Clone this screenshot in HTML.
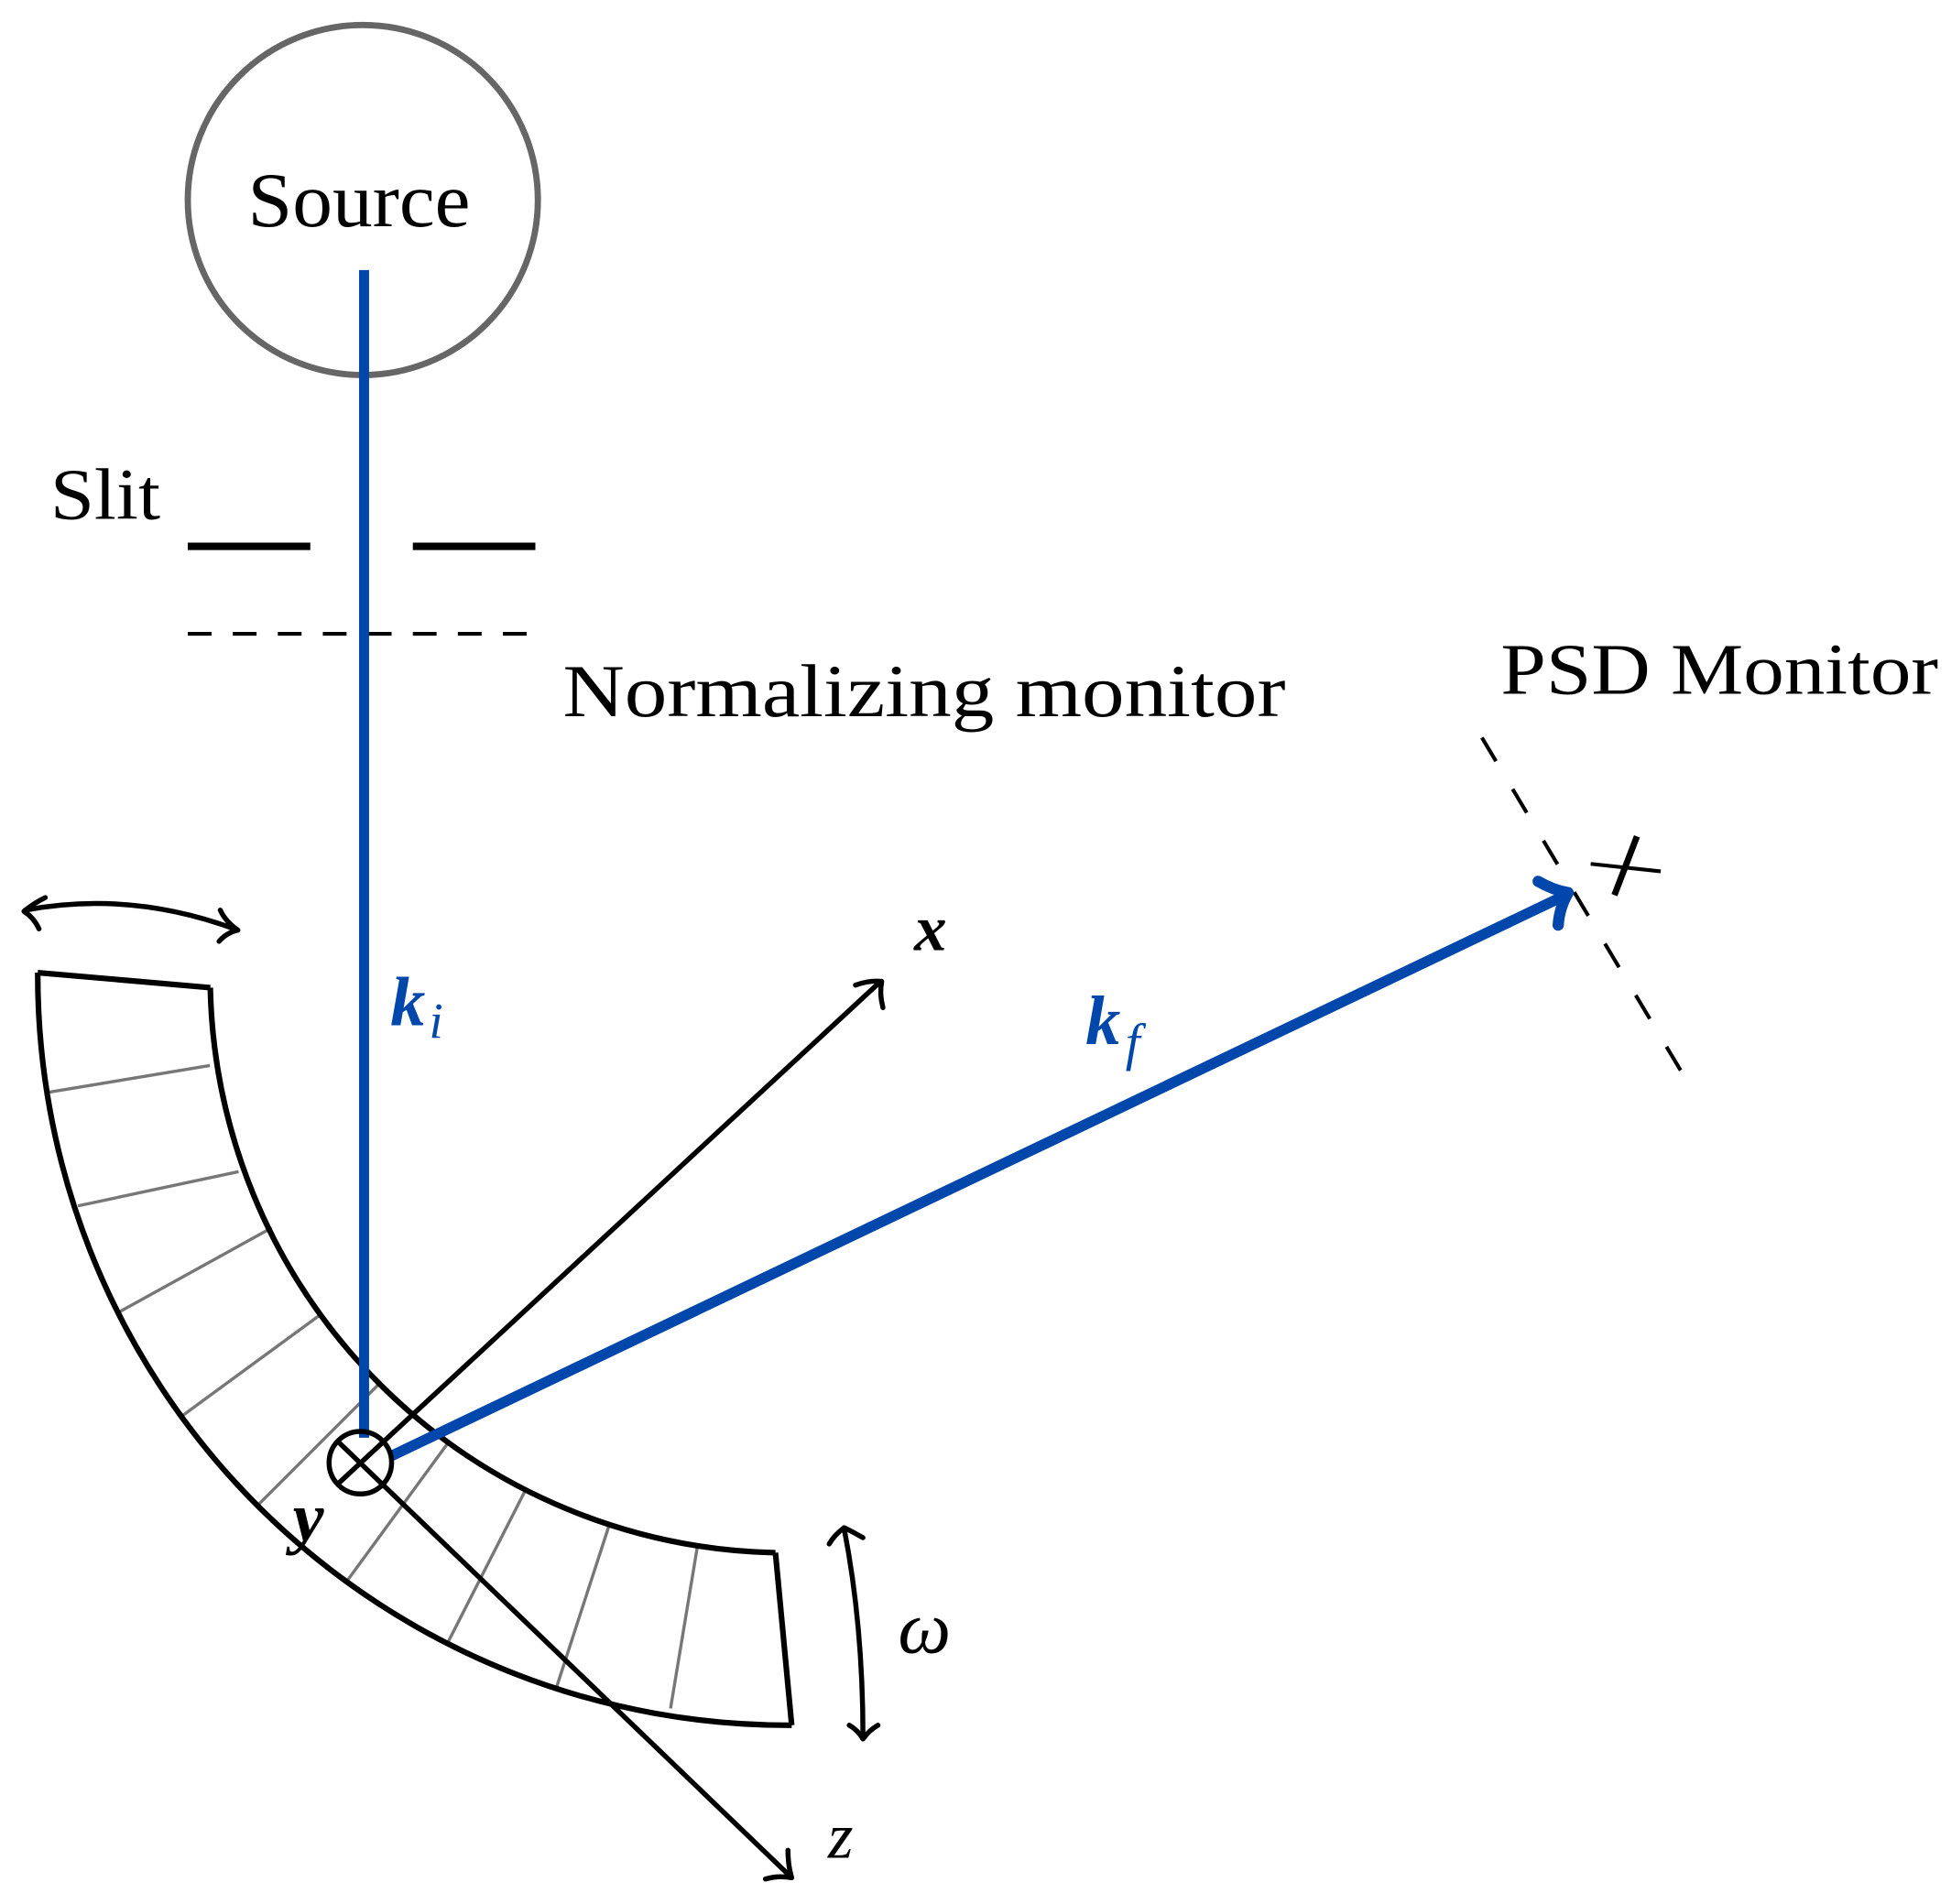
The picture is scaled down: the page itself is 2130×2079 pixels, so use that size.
<!DOCTYPE html>
<html><head><meta charset="utf-8"><style>
html,body{margin:0;padding:0;background:#fff;}
svg{display:block;}
text{font-family:"Liberation Serif",serif;}
</style></head><body>
<svg width="2130" height="2079" viewBox="0 0 1560 1523" xmlns="http://www.w3.org/2000/svg">
<rect width="1560" height="1523" fill="#fff"/>
<circle cx="290" cy="160" r="140" fill="none" stroke="#666" stroke-width="5"/>
<text x="198" y="181" font-size="62" textLength="178" lengthAdjust="spacingAndGlyphs">Source</text>
<text x="40" y="415" font-size="58" textLength="88" lengthAdjust="spacingAndGlyphs">Slit</text>
<line x1="150" y1="437" x2="248" y2="437" stroke="#000" stroke-width="6"/>
<line x1="330" y1="437" x2="428" y2="437" stroke="#000" stroke-width="6"/>
<line x1="150" y1="507" x2="430" y2="507" stroke="#000" stroke-width="3" stroke-dasharray="19 17"/>
<text x="450" y="573" font-size="60" textLength="578" lengthAdjust="spacingAndGlyphs">Normalizing monitor</text>
<text x="1200" y="555" font-size="58" textLength="350" lengthAdjust="spacingAndGlyphs">PSD Monitor</text>
<line x1="1185" y1="590" x2="1345" y2="858" stroke="#000" stroke-width="3" stroke-dasharray="22 26"/>
<line x1="1291" y1="716" x2="1309" y2="669" stroke="#000" stroke-width="5"/>
<line x1="1272" y1="691" x2="1328" y2="697" stroke="#000" stroke-width="3"/>
<g stroke="#777" stroke-width="2.5">
<line x1="167.7" y1="852.3" x2="37.4" y2="873.9"/>
<line x1="190.6" y1="937.2" x2="62.1" y2="964.6"/>
<line x1="217.2" y1="982.1" x2="93.4" y2="1050.4"/>
<line x1="256.2" y1="1051.5" x2="145.3" y2="1132.7"/>
<line x1="303.3" y1="1106.7" x2="205.7" y2="1204.3"/>
<line x1="358.4" y1="1153.8" x2="277.3" y2="1264.7"/>
<line x1="420.2" y1="1191.7" x2="357.6" y2="1314.6"/>
<line x1="487.2" y1="1219.4" x2="444.6" y2="1350.6"/>
<line x1="557.7" y1="1236.3" x2="536.1" y2="1366.6"/>
</g>
<g fill="none" stroke="#000" stroke-width="4.5">
<path d="M30,778 A600,600 0 0 0 633,1380"/>
<path d="M168,790 A462,462 0 0 0 620,1242"/>
<line x1="30" y1="778" x2="168" y2="790"/>
<line x1="633" y1="1380" x2="620" y2="1242"/>
</g>
<g stroke="#000" stroke-width="4" fill="none" stroke-linecap="round" stroke-linejoin="round">
<line x1="270" y1="1187" x2="703" y2="786"/>
<path d="M684,788 Q695,784 705,785 Q703,795 706,806"/>
<line x1="270" y1="1153" x2="632" y2="1501"/>
<path d="M630,1480 Q630,1492 633,1502 Q622,1500 612,1503"/>
<path d="M20,728 Q105,712 190,744"/>
<path d="M36,718 Q26,723 19,729 Q27,734 31,743"/>
<path d="M176,728 Q180,737 190,744 Q181,746 175,753"/>
<path d="M675,1223 Q690,1300 690,1389"/>
<path d="M663,1235 Q667,1228 675,1222 Q683,1226 690,1230"/>
<path d="M679,1380 Q686,1384 690,1391 Q695,1384 702,1380"/>
</g>
<line x1="291" y1="216" x2="291" y2="1150" stroke="#0047AB" stroke-width="8"/>
<line x1="312" y1="1165" x2="1252" y2="716" stroke="#0047AB" stroke-width="8.5"/>
<path d="M1230,705 Q1242,712 1254,714 Q1247,726 1246,740" fill="none" stroke="#0047AB" stroke-width="9" stroke-linecap="round" stroke-linejoin="round"/>
<circle cx="288" cy="1170" r="25" fill="none" stroke="#000" stroke-width="4"/>
<text x="312" y="820" font-size="56" font-style="italic" font-weight="bold" fill="#0047AB">k</text>
<text x="343" y="830" font-size="40" font-style="italic" fill="#0047AB">i</text>
<text x="868" y="835" font-size="56" font-style="italic" font-weight="bold" fill="#0047AB">k</text>
<text x="900" y="848" font-size="42" font-style="italic" fill="#0047AB">f</text>
<text x="731" y="760" font-size="52" font-style="italic" font-weight="bold">x</text>
<text x="234" y="1232" font-size="56" font-style="italic" font-weight="bold">y</text>
<text x="662" y="1486" font-size="52" font-style="italic">z</text>
<text x="718" y="1322" font-size="60" font-style="italic">ω</text>
</svg>
</body></html>
